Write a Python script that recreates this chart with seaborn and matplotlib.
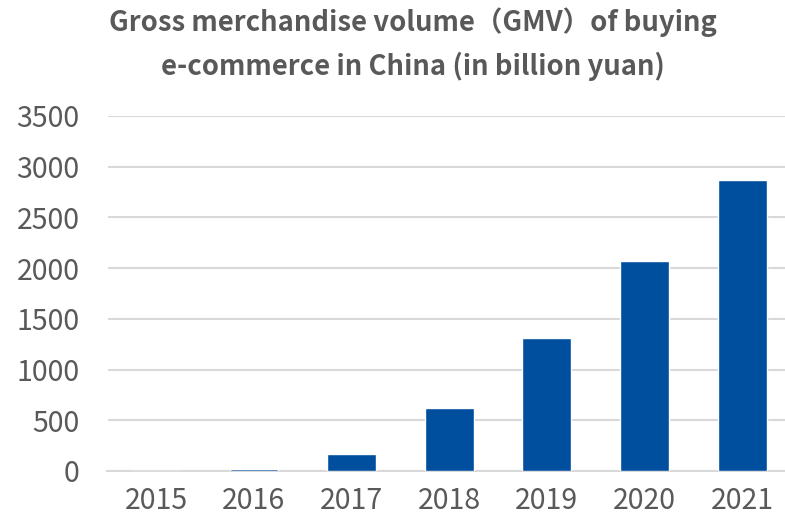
import matplotlib
matplotlib.use("Agg")
import matplotlib.pyplot as plt
import seaborn as sns
import pandas as pd

years = ["2015", "2016", "2017", "2018", "2019", "2020", "2021"]
gmv = [2, 15, 165, 625, 1315, 2068, 2872]
yticks = [0, 500, 1000, 1500, 2000, 2500, 3000, 3500]
title = "Gross merchandise volume（GMV）of buying\ne-commerce in China (in billion yuan)"

sns.set_theme(style="white")
plt.rcParams['font.family'] = ['Noto Sans CJK SC', 'DejaVu Sans']

df = pd.DataFrame({"year": years, "gmv": gmv})

fig = plt.figure(figsize=(7.85, 5.22), dpi=100)
ax = fig.add_axes([107.5/785, 1-471/522, (791-107.5)/785, (471-116)/522])

sns.barplot(data=df, x="year", y="gmv", color="#004f9f", width=0.5,
            saturation=1, ax=ax, zorder=3)

ax.set_ylim(0, 3500)
ax.set_xlim(-0.5, 6.5)
ax.set_yticks(yticks)
ax.set_yticklabels([str(v) for v in yticks])
ax.yaxis.grid(True, color="#d9d9d9", linewidth=1.5, zorder=0)
ax.set_axisbelow(True)
for s in ["top", "right", "left"]:
    ax.spines[s].set_visible(False)
ax.spines["bottom"].set_color("#d9d9d9")
ax.spines["bottom"].set_linewidth(1.5)
ax.set_xlabel("")
ax.set_ylabel("")
ax.tick_params(axis="both", length=0, labelsize=20.5, colors="#595959")
ax.tick_params(axis="y", pad=20)
ax.tick_params(axis="x", pad=11)

fig.text(0.526, 0.985, title, ha="center", va="top", fontsize=19.8,
         fontweight="bold", color="#595959", linespacing=1.6)

fig.savefig("out.png", dpi=100)
